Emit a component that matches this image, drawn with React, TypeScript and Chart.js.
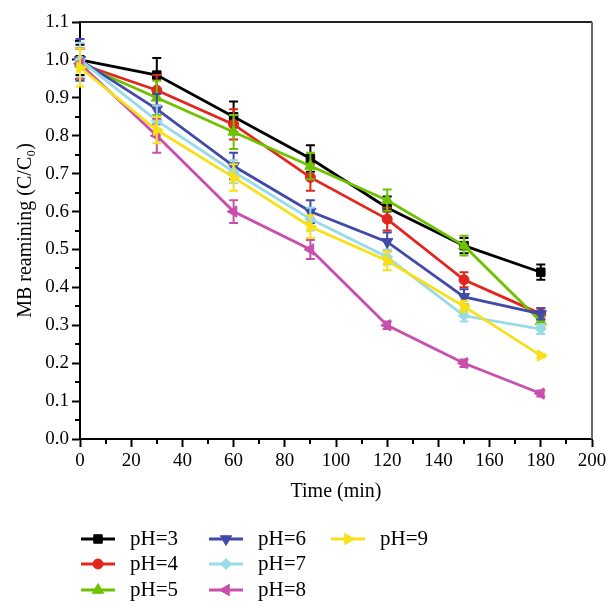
import React, { useEffect, useRef } from 'react';
import { Chart, registerables } from 'chart.js';

Chart.register(...registerables);

// ---- data ----
const times = [0, 30, 60, 90, 120, 150, 180];
const seriesNames = ['pH=3', 'pH=4', 'pH=5', 'pH=6', 'pH=7', 'pH=8', 'pH=9'];

const ph3 = [1.0, 0.96, 0.85, 0.74, 0.61, 0.51, 0.44];
const ph4 = [0.99, 0.92, 0.83, 0.69, 0.58, 0.42, 0.33];
const ph5 = [0.99, 0.9, 0.81, 0.72, 0.63, 0.51, 0.31];
const ph6 = [1.0, 0.87, 0.72, 0.6, 0.52, 0.375, 0.33];
const ph7 = [1.0, 0.84, 0.705, 0.58, 0.48, 0.325, 0.29];
const ph8 = [0.99, 0.8, 0.6, 0.5, 0.3, 0.2, 0.12];
const ph9 = [0.98, 0.815, 0.69, 0.56, 0.47, 0.35, 0.22];

const err3 = [0.04, 0.045, 0.04, 0.035, 0.03, 0.02, 0.02];
const err4 = [0.04, 0.04, 0.04, 0.035, 0.03, 0.02, 0.015];
const err5 = [0.04, 0.045, 0.045, 0.035, 0.028, 0.026, 0.015];
const err6 = [0.055, 0.04, 0.035, 0.03, 0.025, 0.02, 0.015];
const err7 = [0.045, 0.04, 0.03, 0.03, 0.02, 0.015, 0.013];
const err8 = [0.04, 0.045, 0.03, 0.025, 0.01, 0.01, 0.008];
const err9 = [0.05, 0.035, 0.035, 0.03, 0.025, 0.015, 0.005];

const values = [ph3, ph4, ph5, ph6, ph7, ph8, ph9];
const errors = [err3, err4, err5, err6, err7, err8, err9];

const xTicks = [0, 20, 40, 60, 80, 100, 120, 140, 160, 180, 200];
const yTicks = [0, 0.1, 0.2, 0.3, 0.4, 0.5, 0.6, 0.7, 0.8, 0.9, 1.0, 1.1];

// ---- styles ----
const colors = ['#000000', '#e2261d', '#6fc200', '#4249a8', '#97dbe8', '#c94faf', '#f7e017'];
const markers = ['rect', 'circle', 'triangle', 'triangle', 'rectRot', 'triangle', 'triangle'];
const rotations = [0, 0, 0, 180, 0, -90, 90];
const radii = [6, 5, 6.5, 6.5, 5.5, 6.5, 6.5];
const FONT = "'Liberation Serif', 'Times New Roman', serif";

function drawMarker(ctx: CanvasRenderingContext2D, style: string, x: number, y: number, r: number, rot: number) {
  ctx.beginPath();
  if (style === 'circle') {
    ctx.arc(x, y, r, 0, Math.PI * 2);
  } else if (style === 'rect') {
    const s = r * Math.SQRT1_2;
    ctx.rect(x - s, y - s, 2 * s, 2 * s);
  } else if (style === 'rectRot') {
    ctx.moveTo(x - r, y);
    ctx.lineTo(x, y - r);
    ctx.lineTo(x + r, y);
    ctx.lineTo(x, y + r);
    ctx.closePath();
  } else {
    let a = (rot * Math.PI) / 180;
    ctx.moveTo(x + Math.sin(a) * r, y - Math.cos(a) * r);
    a += (2 * Math.PI) / 3;
    ctx.lineTo(x + Math.sin(a) * r, y - Math.cos(a) * r);
    a += (2 * Math.PI) / 3;
    ctx.lineTo(x + Math.sin(a) * r, y - Math.cos(a) * r);
    ctx.closePath();
  }
  ctx.fill();
  ctx.stroke();
}

const errorBarPlugin = {
  id: 'errorBars',
  beforeDatasetDraw(chart: any, args: any) {
    const i = args.index;
    const { ctx } = chart;
    const xs = chart.scales.x;
    const ys = chart.scales.y;
    ctx.save();
    ctx.strokeStyle = colors[i];
    ctx.lineWidth = 2;
    times.forEach((t, k) => {
      const px = xs.getPixelForValue(t);
      const v = values[i][k];
      const e = errors[i][k];
      const top = ys.getPixelForValue(v + e);
      const bot = ys.getPixelForValue(v - e);
      ctx.beginPath();
      ctx.moveTo(px, top);
      ctx.lineTo(px, bot);
      ctx.moveTo(px - 4.5, top);
      ctx.lineTo(px + 4.5, top);
      ctx.moveTo(px - 4.5, bot);
      ctx.lineTo(px + 4.5, bot);
      ctx.stroke();
    });
    ctx.restore();
  },
};

const framePlugin = {
  id: 'frameAndMinor',
  beforeDatasetsDraw(chart: any) {
    const { ctx, chartArea } = chart;
    const { left, right, top, bottom } = chartArea;
    ctx.save();
    ctx.lineWidth = 2;
    ctx.strokeStyle = '#222';
    ctx.beginPath();
    ctx.moveTo(left, top);
    ctx.lineTo(right, top);
    ctx.stroke();
    ctx.strokeStyle = '#6a6a6a';
    ctx.beginPath();
    ctx.moveTo(right, top);
    ctx.lineTo(right, bottom);
    ctx.stroke();
    // minor ticks
    const xs = chart.scales.x;
    const ys = chart.scales.y;
    ctx.strokeStyle = '#000';
    ctx.lineWidth = 2;
    ctx.beginPath();
    for (let k = 0; k < xTicks.length - 1; k++) {
      const m = (xTicks[k] + xTicks[k + 1]) / 2;
      const px = Math.round(xs.getPixelForValue(m));
      ctx.moveTo(px, bottom);
      ctx.lineTo(px, bottom + 5);
    }
    for (let k = 0; k < yTicks.length - 1; k++) {
      const m = (yTicks[k] + yTicks[k + 1]) / 2;
      const py = Math.round(ys.getPixelForValue(m));
      ctx.moveTo(left, py);
      ctx.lineTo(left - 5, py);
    }
    ctx.stroke();
    ctx.restore();
  },
};

const legendPlugin = {
  id: 'customLegend',
  afterDraw(chart: any) {
    const { ctx } = chart;
    const colX = [81, 209, 331];
    const rowY = [539, 564, 590];
    ctx.save();
    seriesNames.forEach((name, i) => {
      const x0 = colX[Math.floor(i / 3)];
      const y0 = rowY[i % 3];
      ctx.strokeStyle = colors[i];
      ctx.fillStyle = colors[i];
      ctx.lineWidth = 2.8;
      ctx.beginPath();
      ctx.moveTo(x0, y0);
      ctx.lineTo(x0 + 34, y0);
      ctx.stroke();
      ctx.lineWidth = 1;
      drawMarker(ctx, markers[i], x0 + 17, y0, radii[i], rotations[i]);
      ctx.fillStyle = '#000';
      ctx.font = `21px ${FONT}`;
      ctx.textBaseline = 'middle';
      ctx.textAlign = 'left';
      ctx.fillText(name, x0 + 49, y0);
    });
    ctx.restore();
  },
};

export default function App() {
  const canvasRef = useRef<HTMLCanvasElement | null>(null);

  useEffect(() => {
    if (!canvasRef.current) return;
    const datasets = seriesNames.map((name, i) => ({
      label: name,
      data: times.map((t, k) => ({ x: t, y: values[i][k] })),
      showLine: true,
      borderColor: colors[i],
      backgroundColor: colors[i],
      borderWidth: 2.8,
      pointStyle: markers[i],
      pointRotation: rotations[i],
      pointRadius: radii[i],
      pointBorderWidth: 1,
      pointBorderColor: colors[i],
      pointBackgroundColor: colors[i],
      order: -i,
      clip: false as any,
    }));

    const chart = new Chart(canvasRef.current, {
      type: 'scatter',
      data: { datasets },
      options: {
        responsive: false,
        animation: false,
        devicePixelRatio: 1,
        layout: { padding: { top: 22, right: 17, left: 0, bottom: 0 } },
        plugins: {
          legend: { display: false },
          tooltip: { enabled: false },
        },
        scales: {
          x: {
            type: 'linear',
            min: 0,
            max: 200,
            afterBuildTicks: (s: any) => {
              s.ticks = xTicks.map((v) => ({ value: v }));
            },
            ticks: {
              color: '#000',
              font: { family: FONT, size: 19 },
              padding: 3,
              maxRotation: 0,
              autoSkip: false,
              callback: (v: any) => String(v),
            },
            grid: {
              drawOnChartArea: false,
              drawTicks: true,
              tickLength: 8,
              tickWidth: 2,
              tickColor: '#000',
              color: '#000',
            },
            border: { display: true, color: '#000', width: 2 },
            title: {
              display: true,
              text: 'Time (min)',
              color: '#000',
              font: { family: FONT, size: 20 },
              padding: { top: 0, bottom: 99 },
            },
            afterFit: (s: any) => {
              s.height = 164;
              s.paddingLeft = 0;
              s.paddingRight = 0;
            },
          },
          y: {
            type: 'linear',
            min: 0,
            max: 1.1,
            afterBuildTicks: (s: any) => {
              s.ticks = yTicks.map((v) => ({ value: v }));
            },
            ticks: {
              color: '#000',
              font: { family: FONT, size: 19 },
              padding: 3,
              autoSkip: false,
              callback: (v: any) => Number(v).toFixed(1),
            },
            grid: {
              drawOnChartArea: false,
              drawTicks: true,
              tickLength: 8,
              tickWidth: 2,
              tickColor: '#000',
              color: '#000',
            },
            border: { display: true, color: '#000', width: 2 },
            title: {
              display: true,
              text: 'MB reamining (C/C₀)',
              color: '#000',
              font: { family: FONT, size: 20 },
              padding: { top: 14, bottom: 0 },
            },
            afterFit: (s: any) => {
              s.width = 80;
              s.paddingTop = 0;
              s.paddingBottom = 0;
            },
          },
        },
      },
      plugins: [framePlugin, errorBarPlugin, legendPlugin],
    } as any);

    return () => chart.destroy();
  }, []);

  return (
    <div style={{ position: 'absolute', left: 0, top: 0, width: 609, height: 603, background: '#fff' }}>
      <canvas ref={canvasRef} width={609} height={603} style={{ display: 'block' }} />
    </div>
  );
}
